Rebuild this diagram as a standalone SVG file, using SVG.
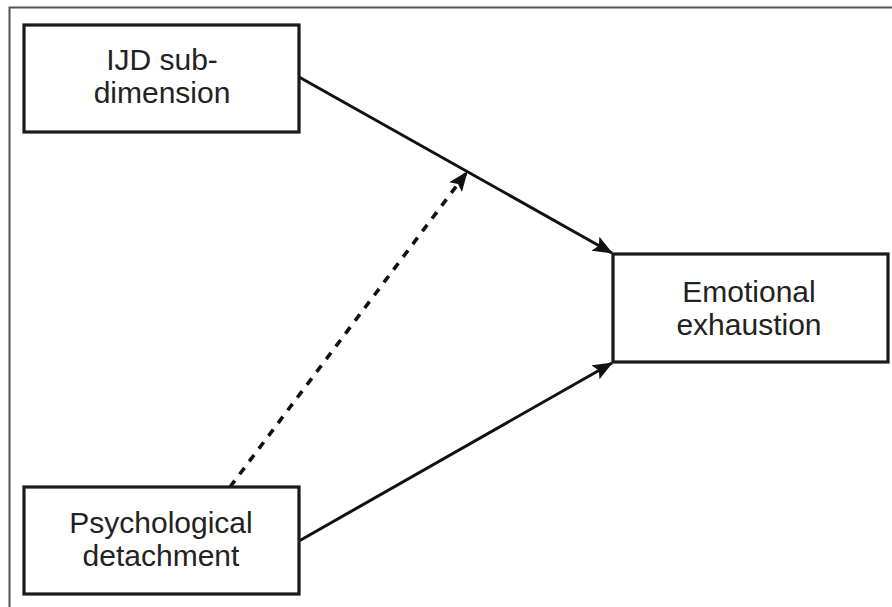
<svg xmlns="http://www.w3.org/2000/svg" width="892" height="607" viewBox="0 0 892 607">
<style>
.box{fill:#fff;stroke:#1a1a1a;stroke-width:3.2}
.lbl{font-family:"Liberation Sans",Arial,sans-serif;font-size:30px;fill:#222;text-anchor:middle}
.edge{stroke:#111;stroke-width:3;fill:none}
.dash{stroke-width:3.6;stroke-dasharray:8,8}
</style>
<defs>
<marker id="ah" viewBox="0 0 20 16" refX="19" refY="8" markerWidth="20" markerHeight="16" markerUnits="userSpaceOnUse" orient="auto">
<path d="M0,0 L20,8 L0,16 L4,8 Z" fill="#111"/>
</marker>
</defs>
<rect width="892" height="607" fill="#fff"/>
<path d="M9.5,607 V7.5 H892" fill="none" stroke="#555" stroke-width="2"/>
<g id="connectors">
<line class="edge" x1="299" y1="77" x2="612" y2="253" marker-end="url(#ah)"/>
<line class="edge" x1="299" y1="541" x2="612" y2="363" marker-end="url(#ah)"/>
<line class="edge dash" x1="230" y1="487" x2="467" y2="172" marker-end="url(#ah)"/>
</g>
<g id="ijd">
<rect class="box" x="24" y="25" width="275" height="107"/>
<text class="lbl" x="162" y="70">IJD sub-</text>
<text class="lbl" x="162" y="103">dimension</text>
</g>
<g id="psych">
<rect class="box" x="24" y="487" width="275" height="107"/>
<text class="lbl" x="161" y="533">Psychological</text>
<text class="lbl" x="161" y="566">detachment</text>
</g>
<g id="emo">
<rect class="box" x="613" y="254" width="275" height="108"/>
<text class="lbl" x="749" y="302">Emotional</text>
<text class="lbl" x="749" y="335">exhaustion</text>
</g>
</svg>
